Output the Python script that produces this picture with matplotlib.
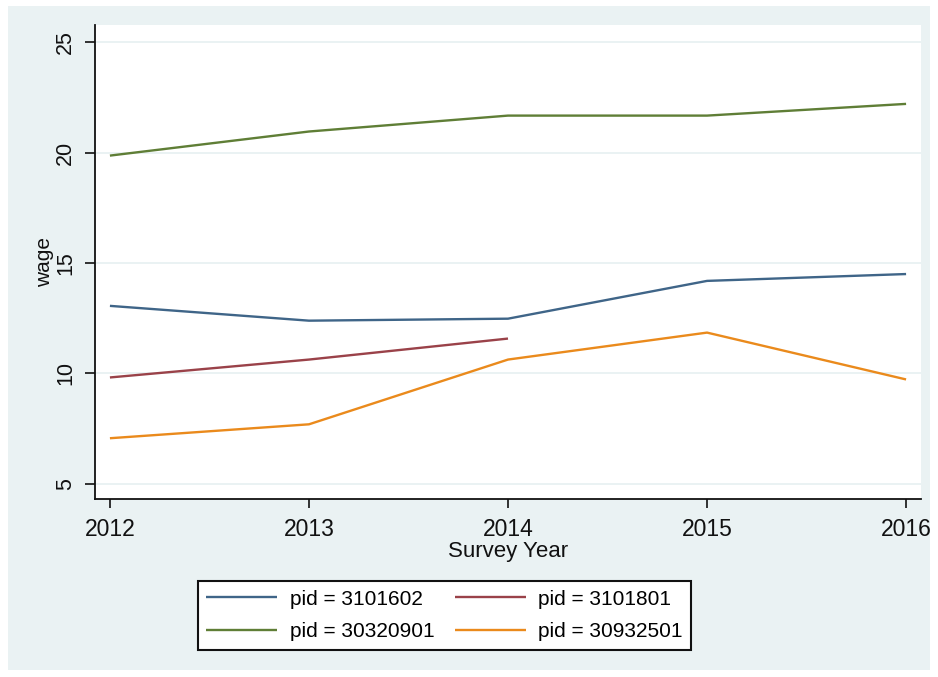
import numpy as np
import matplotlib.pyplot as plt
from matplotlib.patches import Rectangle

plt.rcParams['font.family'] = ['Liberation Sans', 'DejaVu Sans']

# wage by survey year for each person
years = [2012, 2013, 2014, 2015, 2016]
wage_3101602 = [13.06, 12.39, 12.48, 14.19, 14.50]
wage_3101801 = [9.82, 10.63, 11.58]
wage_30320901 = [19.86, 20.95, 21.67, 21.67, 22.20]
wage_30932501 = [7.07, 7.70, 10.63, 11.85, 9.73]

labels = ['pid = 3101602', 'pid = 3101801', 'pid = 30320901', 'pid = 30932501']
colors = ['#3f6588', '#9a4249', '#5f7e36', '#ea8a1c']
y_ticks = [5, 10, 15, 20, 25]

bg = '#eaf2f3'

W, H = 938, 677
fig = plt.figure(figsize=(W / 100, H / 100), dpi=100, facecolor='white')

# graph region background, kept behind the axes
fig.add_artist(Rectangle((8 / W, 1 - 670 / H), (930 - 8) / W, (670 - 6) / H,
                         transform=fig.transFigure, facecolor=bg,
                         edgecolor='none', zorder=-10))

ax = fig.add_axes([95 / W, 1 - 499 / H, (921 - 95) / W, (499 - 25) / H])
ax.set_facecolor('white')

series = [(years, wage_3101602), (years[:3], wage_3101801),
          (years, wage_30320901), (years, wage_30932501)]
handles = []
for (x, y), c, lab in zip(series, colors, labels):
    h, = ax.plot(x, y, color=c, lw=1.7, label=lab, solid_capstyle='butt')
    handles.append(h)

ax.set_xlim(2011.925, 2016.075)
ax.set_ylim(4.32, 25.77)
ax.set_xticks(years)
ax.set_yticks(y_ticks)
ax.grid(axis='y', color=bg, lw=1.4)
ax.set_axisbelow(True)

for side in ['top', 'right']:
    ax.spines[side].set_visible(False)
for side in ['left', 'bottom']:
    ax.spines[side].set_linewidth(1.3)
    ax.spines[side].set_color('#111111')

ax.tick_params(axis='x', direction='out', length=6.5, width=1.2, pad=7,
               labelsize=16.5, colors='#111111')
ax.tick_params(axis='y', direction='out', length=7.5, width=1.2, pad=6,
               labelsize=15.5, colors='#111111')
for t in ax.get_yticklabels():
    t.set_rotation(90)
    t.set_va('center')

ax.set_xlabel('Survey Year', fontsize=16, labelpad=0, color='#111111')
ax.set_ylabel('wage', fontsize=15, labelpad=1, color='#111111')

# legend fills row by row: two entries per row
order = [0, 2, 1, 3]
leg = fig.legend([handles[i] for i in order], [labels[i] for i in order],
                 loc='center', bbox_to_anchor=(444.5 / W, 1 - 615.5 / H),
                 ncol=2, fontsize=15, frameon=True, fancybox=False,
                 handlelength=3.4, handletextpad=0.6, columnspacing=1.0,
                 labelspacing=0.65, borderpad=0.4)
leg.get_frame().set_edgecolor('#111111')
leg.get_frame().set_linewidth(1.5)
leg.get_frame().set_facecolor('white')
leg.get_frame().set_alpha(1)

fig.savefig('out.png', dpi=100, facecolor='white')
